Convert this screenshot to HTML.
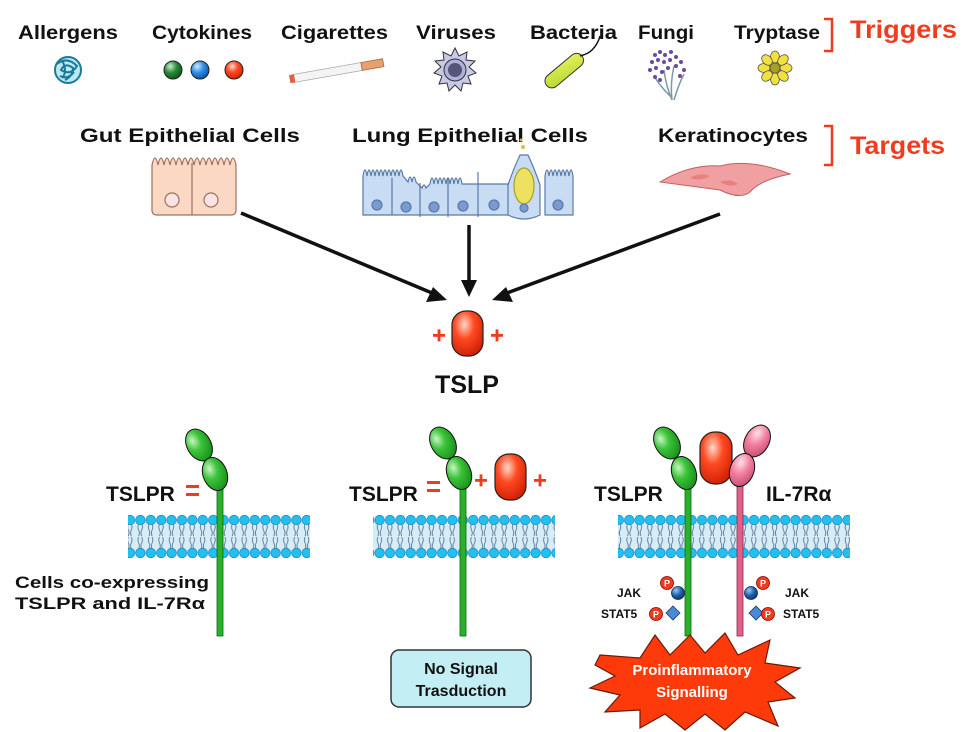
<!DOCTYPE html>
<html><head><meta charset="utf-8"><style>
html,body{margin:0;padding:0;background:#fff}
svg{display:block}
text{font-family:"Liberation Sans",Arial,sans-serif;font-weight:bold}
</style></head><body>
<svg width="979" height="732" viewBox="0 0 979 732" xmlns="http://www.w3.org/2000/svg">
<defs>
<radialGradient id="gG" cx="0.35" cy="0.3" r="0.8"><stop offset="0" stop-color="#c8f5c0"/><stop offset="0.4" stop-color="#3cc43c"/><stop offset="1" stop-color="#138a13"/></radialGradient>
<radialGradient id="gR" cx="0.4" cy="0.3" r="0.8"><stop offset="0" stop-color="#ffd8c8"/><stop offset="0.4" stop-color="#ff4a22"/><stop offset="1" stop-color="#c81800"/></radialGradient>
<radialGradient id="gP" cx="0.35" cy="0.3" r="0.8"><stop offset="0" stop-color="#ffe0ea"/><stop offset="0.45" stop-color="#f2809e"/><stop offset="1" stop-color="#c84670"/></radialGradient>
<radialGradient id="gB" cx="0.35" cy="0.3" r="0.8"><stop offset="0" stop-color="#cfe8ff"/><stop offset="0.45" stop-color="#2e8ee8"/><stop offset="1" stop-color="#0a4a9a"/></radialGradient>
<radialGradient id="gDB" cx="0.35" cy="0.3" r="0.8"><stop offset="0" stop-color="#9fc8f0"/><stop offset="0.5" stop-color="#2060a8"/><stop offset="1" stop-color="#0c3060"/></radialGradient>
<radialGradient id="gGr" cx="0.35" cy="0.3" r="0.8"><stop offset="0" stop-color="#c8f0c8"/><stop offset="0.45" stop-color="#2a8a3a"/><stop offset="1" stop-color="#0a4a18"/></radialGradient>
<linearGradient id="bact" x1="0" y1="1" x2="1" y2="0"><stop offset="0" stop-color="#b8d830"/><stop offset="1" stop-color="#e6f060"/></linearGradient>
<pattern id="mem" x="0" y="515" width="10.4" height="43" patternUnits="userSpaceOnUse">
<rect x="0" y="5" width="10.4" height="33" fill="#d6ecf6"/>
<path d="M3.5 9 q-1.5 3 0 6 q1.5 3 0 6 M6.5 9 q1.5 3 0 6 q-1.5 3 0 6 M3.5 22 q-1.5 3 0 6 q1.5 3 0 6 M6.5 22 q1.5 3 0 6 q-1.5 3 0 6" stroke="#4a6a8a" stroke-width="0.8" fill="none"/>
<circle cx="5.2" cy="5" r="4.8" fill="#22c0f0" stroke="#1a7ab0" stroke-width="0.6"/>
<circle cx="5.2" cy="38" r="4.8" fill="#22c0f0" stroke="#1a7ab0" stroke-width="0.6"/>
</pattern>
</defs>

<!-- Triggers row -->
<g font-size="19" fill="#111">
<text x="18" y="39" textLength="100" lengthAdjust="spacingAndGlyphs">Allergens</text>
<text x="152" y="39" textLength="100" lengthAdjust="spacingAndGlyphs">Cytokines</text>
<text x="281" y="39" textLength="107" lengthAdjust="spacingAndGlyphs">Cigarettes</text>
<text x="416" y="39" textLength="80" lengthAdjust="spacingAndGlyphs">Viruses</text>
<text x="530" y="39" textLength="87" lengthAdjust="spacingAndGlyphs">Bacteria</text>
<text x="638" y="39" textLength="56" lengthAdjust="spacingAndGlyphs">Fungi</text>
<text x="734" y="39" textLength="86" lengthAdjust="spacingAndGlyphs">Tryptase</text>
</g>
<path d="M824 19 H832 V51 H824" stroke="#f03c1e" stroke-width="2.5" fill="none"/>
<text x="850" y="38" font-size="25" fill="#f03c1e" textLength="107" lengthAdjust="spacingAndGlyphs">Triggers</text>

<!-- icons -->
<g fill="none" stroke="#1a7a98" stroke-width="2">
<circle cx="68" cy="70" r="13" fill="#bde8f0"/>
<path d="M57 64 q10 -8 20 2 q-6 10 -16 4 q4 -8 12 -2 q0 8 -8 12 M60 76 q8 4 14 -4 M62 60 q6 12 0 18"/>
</g>
<circle cx="173" cy="70" r="9" fill="url(#gGr)" stroke="#222" stroke-width="1"/>
<circle cx="200" cy="70" r="9" fill="url(#gB)" stroke="#222" stroke-width="1"/>
<circle cx="234" cy="70" r="9" fill="url(#gR)" stroke="#222" stroke-width="1"/>
<g transform="rotate(-10 336 71)">
<rect x="292" y="67" width="70" height="8" fill="#f4f4f4" stroke="#aaa" stroke-width="0.8"/>
<rect x="362" y="67" width="22" height="8" fill="#e8a070" stroke="#a86a40" stroke-width="0.8"/>
<rect x="289" y="67" width="5" height="8" fill="#e06040"/>
</g>
<g transform="translate(455 70)">
<polygon points="0,-22 4,-14 12,-18 11,-10 20,-9 14,-3 21,3 13,6 16,14 8,13 6,21 0,15 -6,21 -8,13 -16,14 -13,6 -21,3 -14,-3 -20,-9 -11,-10 -12,-18 -4,-14" fill="#c8c8e8" stroke="#333" stroke-width="1"/>
<circle r="11" fill="#b0b0d8" stroke="#333" stroke-width="1"/>
<circle r="7" fill="#55557a"/>
</g>
<g transform="rotate(-40 565 70)">
<rect x="541" y="63" width="46" height="14" rx="7" fill="url(#bact)" stroke="#333" stroke-width="1"/>
</g>
<path d="M580 56 q8 -2 12 -6 q6 -6 8 -14" stroke="#111" stroke-width="1.5" fill="none"/>
<g stroke="#7a9aaa" stroke-width="1.5" fill="none">
<path d="M672 100 q-6 -14 -8 -30 M672 100 q-2 -16 2 -34 M674 100 q4 -14 10 -26 M670 96 q-10 -10 -16 -20"/>
</g>
<g fill="#6a4aa0">
<circle cx="655" cy="55" r="2"/><circle cx="660" cy="52" r="2"/><circle cx="665" cy="55" r="2"/><circle cx="671" cy="52" r="2"/><circle cx="676" cy="57" r="2"/><circle cx="681" cy="62" r="2"/><circle cx="652" cy="62" r="2"/><circle cx="658" cy="60" r="2"/><circle cx="664" cy="62" r="2"/><circle cx="670" cy="60" r="2"/><circle cx="676" cy="66" r="2"/><circle cx="684" cy="70" r="2"/><circle cx="650" cy="70" r="2"/><circle cx="656" cy="68" r="2"/><circle cx="662" cy="72" r="2"/><circle cx="668" cy="68" r="2"/><circle cx="655" cy="77" r="2"/><circle cx="680" cy="76" r="2"/><circle cx="660" cy="80" r="2"/>
</g>
<g transform="translate(775 68)" fill="#f0e040" stroke="#555" stroke-width="0.8">
<ellipse cx="0" cy="-11" rx="4.5" ry="6"/><ellipse cx="0" cy="11" rx="4.5" ry="6"/><ellipse cx="-11" cy="0" rx="6" ry="4.5"/><ellipse cx="11" cy="0" rx="6" ry="4.5"/>
<ellipse cx="8" cy="-8" rx="4.5" ry="6" transform="rotate(45 8 -8)"/><ellipse cx="-8" cy="8" rx="4.5" ry="6" transform="rotate(45 -8 8)"/><ellipse cx="-8" cy="-8" rx="4.5" ry="6" transform="rotate(-45 -8 -8)"/><ellipse cx="8" cy="8" rx="4.5" ry="6" transform="rotate(-45 8 8)"/>
<circle r="5" fill="#a8a020"/>
</g>

<!-- Targets row -->
<g font-size="19" fill="#111">
<text x="80" y="142" textLength="220" lengthAdjust="spacingAndGlyphs">Gut  Epithelial  Cells</text>
<text x="352" y="142" textLength="236" lengthAdjust="spacingAndGlyphs">Lung  Epithelial  Cells</text>
<text x="658" y="142" textLength="150" lengthAdjust="spacingAndGlyphs">Keratinocytes</text>
</g>
<path d="M824 126 H832 V165 H824" stroke="#f03c1e" stroke-width="2.5" fill="none"/>
<text x="850" y="154" font-size="25" fill="#f03c1e" textLength="95" lengthAdjust="spacingAndGlyphs">Targets</text>

<!-- gut cells -->
<g stroke="#a07060" stroke-width="1.2" fill="#fbd8c4">
<path d="M152 165 q3 -14 6 0 q3 -14 6 0 q3 -14 6 0 q3 -14 6 0 q3 -14 6 0 q3 -14 6 0 q3 -14 6 0 q3 -14 6 0 q3 -14 6 0 q3 -14 6 0 q3 -14 6 0 q3 -14 6 0 q3 -14 6 0 q3 -14 6 0 V210 q0 5 -5 5 H157 q-5 0 -5 -5z"/>
<line x1="192" y1="163" x2="192" y2="215"/>
<circle cx="172" cy="200" r="7" fill="#f8e4e4"/><circle cx="211" cy="200" r="7" fill="#f8e4e4"/>
</g>
<!-- lung cells -->
<g stroke="#5a7aa8" stroke-width="1.2" fill="#c8ddf4">
<path d="M363 176 q2 -12 4 0 q2 -12 4 0 q2 -12 4 0 q2 -12 4 0 q2 -12 4 0 q2 -12 4 0 q2 -12 4 0 q2 -12 4 0 q2 -12 4 0 q2 -12 4 0 l5 6 q2 -10 4 0 q2 -10 4 0 l6 6 q2 -6 4 0 l4 -4 q2 -12 4 0 q2 -12 4 0 q2 -12 4 0 q2 -12 4 0 q2 -12 4 0 q2 -12 4 0 q2 -12 4 0 q2 -12 4 0 H510 V215 H363z"/>
<path d="M545 176 q2 -12 4 0 q2 -12 4 0 q2 -12 4 0 q2 -12 4 0 q2 -12 4 0 q2 -12 4 0 q2 -12 4 0 V215 H545z"/>
<path d="M508 215 V185 q5 -15 12 -30 h8 q7 15 12 30 V215 q-16 8 -32 0z" fill="#c8ddf4"/>
<ellipse cx="524" cy="186" rx="10" ry="18" fill="#eee060" stroke="#a8a020"/>
<line x1="392" y1="178" x2="392" y2="215"/><line x1="420" y1="183" x2="420" y2="217"/><line x1="448" y1="178" x2="448" y2="217"/><line x1="478" y1="172" x2="478" y2="217"/>
<g fill="#7a9ad0"><circle cx="377" cy="205" r="5"/><circle cx="406" cy="207" r="5"/><circle cx="434" cy="207" r="5"/><circle cx="463" cy="206" r="5"/><circle cx="494" cy="205" r="5"/><circle cx="524" cy="208" r="4"/><circle cx="558" cy="205" r="5"/></g>
</g>
<circle cx="523" cy="147" r="2" fill="#d8c040"/><circle cx="521" cy="140" r="1.5" fill="#d8c040"/>
<!-- keratinocyte -->
<path d="M660 182 q30 -18 60 -16 q30 -8 70 8 q-30 6 -40 18 q-10 8 -30 -2 q-30 -4 -60 -8z" fill="#f0a0a0" stroke="#c06060" stroke-width="1"/>
<path d="M690 178 q10 -6 20 -2 q-10 6 -20 2z M720 182 q10 -4 18 2 q-8 4 -18 -2z" fill="#e88080"/>

<!-- arrows -->
<g stroke="#111" stroke-width="3.5" fill="#111">
<line x1="241" y1="213" x2="432" y2="293"/>
<line x1="469" y1="225" x2="469" y2="283"/>
<line x1="720" y1="214" x2="507" y2="293"/>
</g>
<polygon points="447,300 426,302 433,287" fill="#111"/>
<polygon points="469,297 461,280 477,280" fill="#111"/>
<polygon points="492,300 506,287 513,302" fill="#111"/>

<!-- TSLP -->
<rect x="452" y="311" width="31" height="45" rx="14" fill="url(#gR)" stroke="#222" stroke-width="1.2"/>
<g fill="#f03c1e"><rect x="433" y="334" width="12" height="2.8"/><rect x="437.6" y="329.4" width="2.8" height="12"/><rect x="491" y="334" width="12" height="2.8"/><rect x="495.6" y="329.4" width="2.8" height="12"/></g>
<text x="467" y="393" font-size="25" text-anchor="middle" fill="#111">TSLP</text>

<!-- membranes -->
<rect x="128" y="515" width="182" height="43" fill="url(#mem)"/>
<rect x="373" y="515" width="182" height="43" fill="url(#mem)"/>
<rect x="618" y="515" width="232" height="43" fill="url(#mem)"/>

<!-- Panel 1 -->
<rect x="217" y="485" width="6" height="151" fill="#2ab02a" stroke="#0a6a0a" stroke-width="0.8"/>
<ellipse cx="199" cy="445" rx="12" ry="17" fill="url(#gG)" stroke="#111" stroke-width="1" transform="rotate(-30 199 445)"/>
<ellipse cx="215" cy="474" rx="12" ry="17" fill="url(#gG)" stroke="#111" stroke-width="1" transform="rotate(-20 215 474)"/>
<text x="106" y="501" font-size="21" fill="#111">TSLPR</text>
<g fill="#f03c1e"><rect x="186" y="485" width="13" height="3"/><rect x="186" y="493" width="13" height="3"/></g>
<text x="15" y="588" font-size="17" fill="#111" textLength="194" lengthAdjust="spacingAndGlyphs">Cells  co-expressing</text>
<text x="15" y="609" font-size="17" fill="#111" textLength="190" lengthAdjust="spacingAndGlyphs">TSLPR  and  IL-7Rα</text>

<!-- Panel 2 -->
<rect x="460" y="488" width="6" height="148" fill="#2ab02a" stroke="#0a6a0a" stroke-width="0.8"/>
<ellipse cx="443" cy="443" rx="12" ry="17" fill="url(#gG)" stroke="#111" stroke-width="1" transform="rotate(-30 443 443)"/>
<ellipse cx="459" cy="473" rx="12" ry="17" fill="url(#gG)" stroke="#111" stroke-width="1" transform="rotate(-20 459 473)"/>
<text x="349" y="501" font-size="21" fill="#111">TSLPR</text>
<g fill="#f03c1e"><rect x="427" y="481" width="13" height="3"/><rect x="427" y="489" width="13" height="3"/>
<rect x="475" y="479" width="12" height="2.8"/><rect x="479.6" y="474.4" width="2.8" height="12"/>
<rect x="534" y="479" width="12" height="2.8"/><rect x="538.6" y="474.4" width="2.8" height="12"/></g>
<rect x="495" y="454" width="31" height="46" rx="14" fill="url(#gR)" stroke="#222" stroke-width="1.2"/>
<rect x="391" y="650" width="140" height="57" rx="8" fill="#c2eef4" stroke="#333" stroke-width="1.5"/>
<text x="461" y="674" font-size="16" text-anchor="middle" fill="#111">No Signal</text>
<text x="461" y="696" font-size="16" text-anchor="middle" fill="#111">Trasduction</text>

<!-- Panel 3 -->
<rect x="685" y="485" width="6" height="151" fill="#2ab02a" stroke="#0a6a0a" stroke-width="0.8"/>
<rect x="737" y="485" width="6" height="151" fill="#e0608a" stroke="#8a2a4a" stroke-width="0.8"/>
<ellipse cx="667" cy="443" rx="12" ry="17" fill="url(#gG)" stroke="#111" stroke-width="1" transform="rotate(-30 667 443)"/>
<ellipse cx="684" cy="473" rx="12" ry="17" fill="url(#gG)" stroke="#111" stroke-width="1" transform="rotate(-20 684 473)"/>
<rect x="700" y="432" width="32" height="52" rx="15" fill="url(#gR)" stroke="#222" stroke-width="1.2"/>
<ellipse cx="757" cy="441" rx="12" ry="17" fill="url(#gP)" stroke="#111" stroke-width="1" transform="rotate(30 757 441)"/>
<ellipse cx="742" cy="470" rx="12" ry="17" fill="url(#gP)" stroke="#111" stroke-width="1" transform="rotate(20 742 470)"/>
<text x="594" y="501" font-size="21" fill="#111">TSLPR</text>
<text x="766" y="501" font-size="21" fill="#111">IL-7Rα</text>

<g font-size="12" fill="#111">
<text x="617" y="597">JAK</text><text x="785" y="597">JAK</text>
<text x="601" y="618">STAT5</text><text x="783" y="618">STAT5</text>
</g>
<circle cx="678" cy="593" r="6.5" fill="url(#gDB)" stroke="#0a2a5a" stroke-width="0.8"/>
<circle cx="751" cy="593" r="6.5" fill="url(#gDB)" stroke="#0a2a5a" stroke-width="0.8"/>
<polygon points="673,606 680,613 673,620 666,613" fill="#4a8ad0" stroke="#1a3a6a" stroke-width="0.8"/>
<polygon points="756,606 763,613 756,620 749,613" fill="#4a8ad0" stroke="#1a3a6a" stroke-width="0.8"/>
<g font-size="9" fill="#fff" text-anchor="middle">
<circle cx="667" cy="583" r="6.5" fill="#f03c1e" stroke="#800" stroke-width="0.8"/><text x="667" y="586.5">P</text>
<circle cx="763" cy="583" r="6.5" fill="#f03c1e" stroke="#800" stroke-width="0.8"/><text x="763" y="586.5">P</text>
<circle cx="656" cy="614" r="6.5" fill="#f03c1e" stroke="#800" stroke-width="0.8"/><text x="656" y="617.5">P</text>
<circle cx="768" cy="614" r="6.5" fill="#f03c1e" stroke="#800" stroke-width="0.8"/><text x="768" y="617.5">P</text>
</g>
<polygon points="600,655 640,658 655,635 670,655 690,635 705,653 725,633 738,655 770,640 765,663 800,668 775,682 795,698 768,702 778,726 745,712 725,730 705,714 685,730 665,714 640,728 640,710 605,712 620,695 590,688 615,676 595,665" fill="#ff3a0a" stroke="#6a1a0a" stroke-width="1.2"/>
<text x="692" y="675" font-size="15" fill="#fff" text-anchor="middle">Proinflammatory</text>
<text x="692" y="697" font-size="15" fill="#fff" text-anchor="middle">Signalling</text>
</svg>
</body></html>
